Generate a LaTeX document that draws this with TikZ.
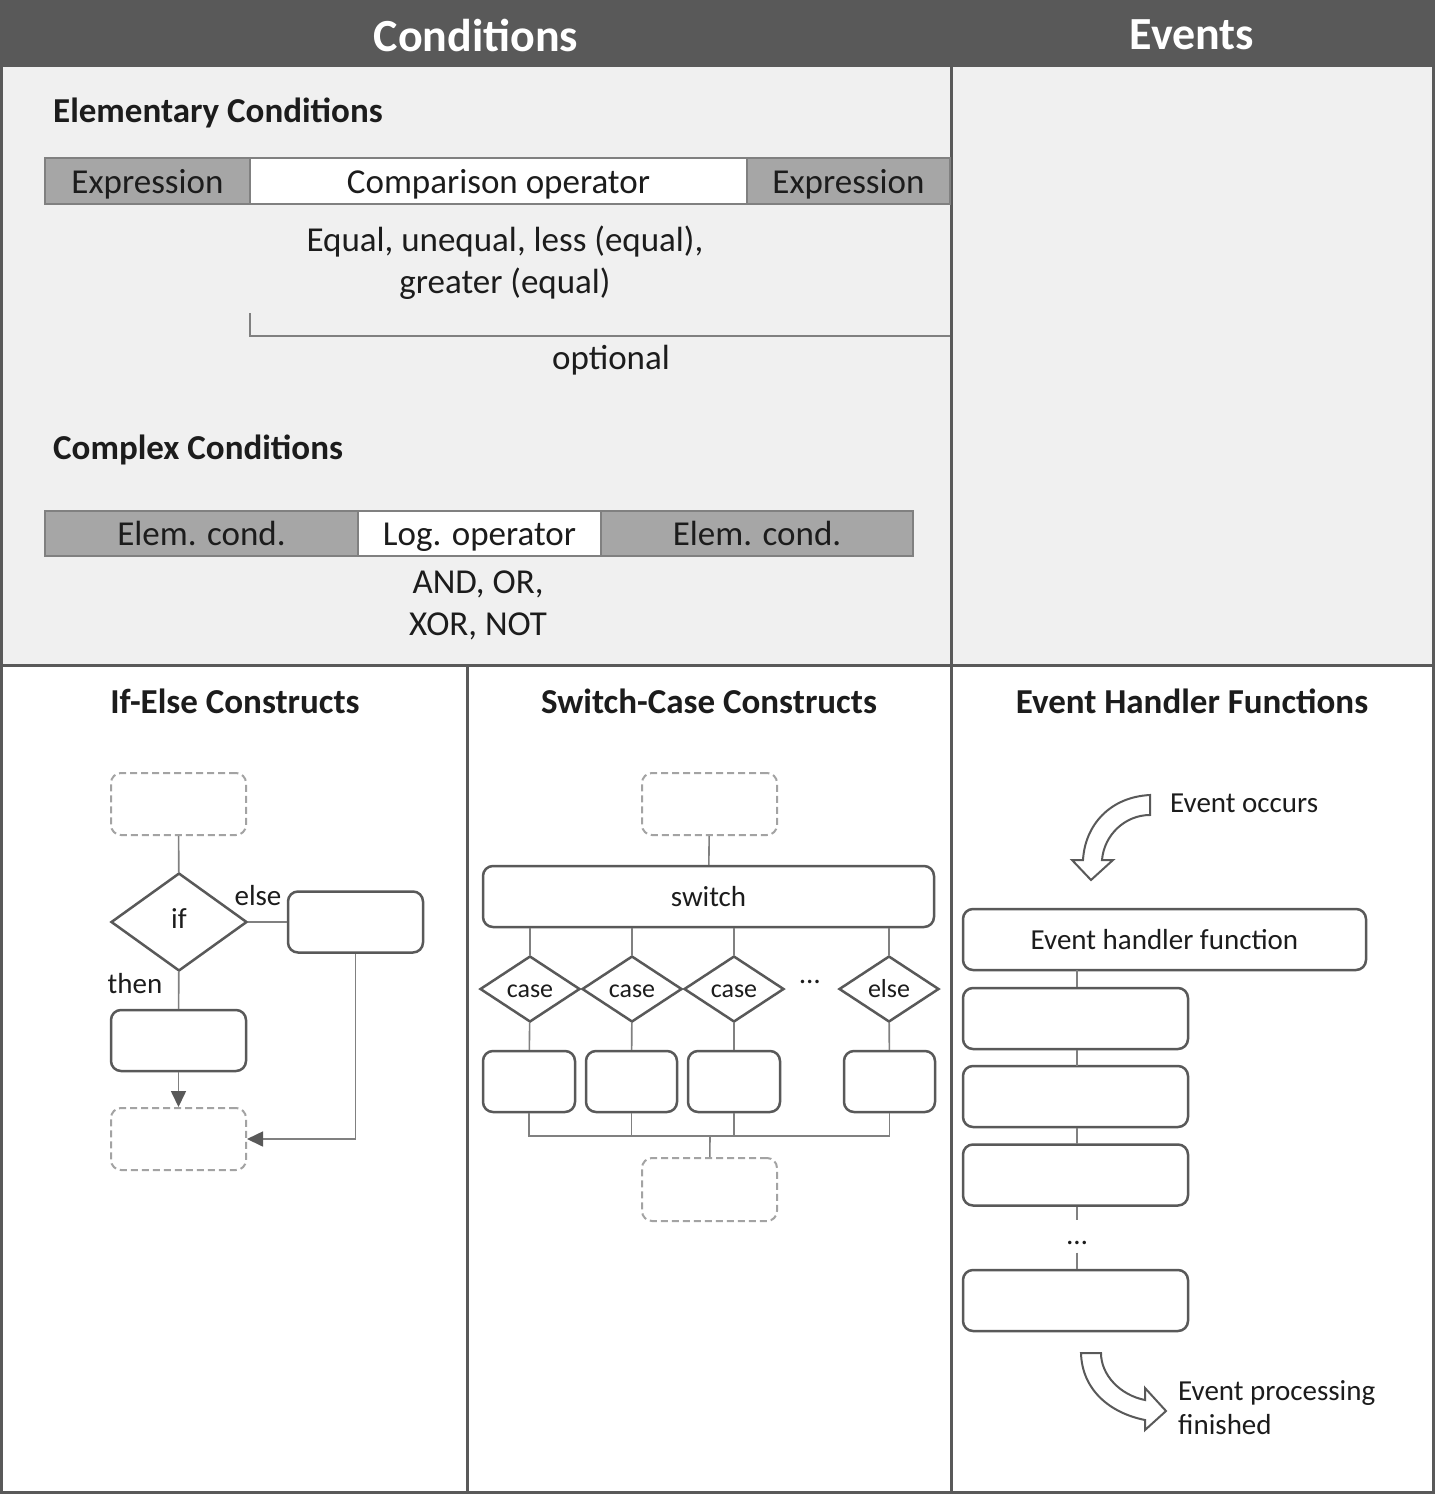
\documentclass[tikz,border=0pt]{standalone}
\usepackage{fontspec}
\setmainfont{Carlito}
\usetikzlibrary{shapes.geometric,arrows.meta}
\definecolor{dark}{HTML}{595959}
\definecolor{panel}{HTML}{F0F0F0}
\definecolor{midgray}{HTML}{A6A6A6}
\definecolor{linegray}{HTML}{808080}
\definecolor{txt}{HTML}{1C1C1C}
\definecolor{dashgray}{HTML}{A3A3A3}
\tikzset{
  headtxt/.style={font=\bfseries\fontsize{46}{50}\selectfont, text=white, inner sep=0},
  heading/.style={font=\bfseries\fontsize{35}{42}\selectfont, text=txt, inner sep=0},
  bodytxt/.style={font=\fontsize{35}{42}\selectfont, text=txt, inner sep=0, align=center},
  smalltxt/.style={font=\fontsize{29}{34}\selectfont, text=txt, inner sep=0},
  seg/.style={draw=linegray, line width=1.5pt, inner sep=0, font=\fontsize{35}{42}\selectfont, text=txt,
     text height=30pt, text depth=6pt},
  fbox/.style={draw=dark, line width=2.5pt, rounded corners=10pt, fill=white, inner sep=0,
     minimum width=135pt, minimum height=61pt, font=\fontsize{29}{34}\selectfont, text=txt},
  dbox/.style={draw=dashgray, line width=2pt, dash pattern=on 7pt off 4pt, rounded corners=10pt,
     inner sep=0, minimum width=135pt, minimum height=62pt},
  dia/.style={diamond, draw=dark, line width=2.5pt, fill=white, inner sep=0, text=txt},
  casedia/.style={dia, minimum width=100pt, minimum height=66pt, font=\fontsize{26}{30}\selectfont,
     text height=16pt, text depth=0pt},
  conn/.style={draw=linegray, line width=1.6pt},
  arr/.style={conn, -{Triangle[length=16pt,width=15pt,fill=dark,color=dark]}},
  blockarrow/.style={draw=dark, line width=2pt, fill=white, line join=miter},
}
\begin{document}
\begin{tikzpicture}[x=1pt,y=-1pt]
\useasboundingbox (0,0) rectangle (1435,1494);
% background and panels
\fill[dark] (0,0) rectangle (1435,1494);
\fill[panel] (3,67) rectangle (950,664);
\fill[panel] (953,67) rectangle (1432,664);
\fill[white] (3,667) rectangle (466,1491);
\fill[white] (469,667) rectangle (950,1491);
\fill[white] (953,667) rectangle (1432,1491);

\node[headtxt] (hcond) at (476,35) {Conditions};
\node[headtxt] (hev) at (1192,35) {Events};

% Elementary conditions
\node[heading, anchor=west] (ec) at (53,113) {Elementary Conditions};
\node[seg, fill=midgray, minimum width=205pt, minimum height=46pt] (ex1) at (147.5,181) {Expression};
\node[seg, fill=white, minimum width=497pt, minimum height=46pt] (cop) at (498.5,181) {Comparison operator};
\node[seg, fill=midgray, minimum width=203pt, minimum height=46pt] (ex2) at (848.5,181) {Expression};
\node[bodytxt] (coptxt) at (505,263) {Equal, unequal, less (equal),\\greater (equal)};
\coordinate (bra) at (250,313);
\coordinate (brb) at (250,336);
\coordinate (brc) at (950,336);
\draw[conn] (bra) -- (brb) -- (brc);
\node[bodytxt] (opt) at (611,360) {optional};

% Complex conditions
\node[heading, anchor=west] (cc) at (53,450) {Complex Conditions};
\node[seg, fill=midgray, minimum width=313pt, minimum height=45pt] (el1) at (201.5,533.5) {Elem. cond.};
\node[seg, fill=white, minimum width=243pt, minimum height=45pt] (lop) at (479.5,533.5) {Log. operator};
\node[seg, fill=midgray, minimum width=312pt, minimum height=45pt] (el2) at (757,533.5) {Elem. cond.};
\node[bodytxt] (loptxt) at (478,605) {AND, OR,\\XOR, NOT};

% bottom headings
\node[heading] (hif) at (235,701) {If-Else Constructs};
\node[heading] (hsw) at (709,701) {Switch-Case Constructs};
\node[heading] (heh) at (1192,701) {Event Handler Functions};

% If-Else
\node[dbox] (it) at (178.5,804) {};
\node[dia, minimum width=136pt, minimum height=98pt, font=\fontsize{29}{34}\selectfont, text height=12pt, text depth=0pt] (if) at (179,922) {if};
\node[fbox] (ie) at (355.5,922) {};
\node[fbox] (ith) at (178.5,1040.5) {};
\node[dbox] (ib) at (178.5,1139) {};
\node[smalltxt] (lelse) at (258,896) {else};
\node[smalltxt] (lthen) at (135,984) {then};
\draw[conn] (it) -- (if);
\draw[conn] (if) -- (ie);
\draw[conn] (if) -- (ith);
\draw[arr] (ith) -- (ib);
\draw[arr] (ie.south) |- (ib.east);

% Switch-Case
\node[dbox] (st) at (709.5,804) {};
\node[fbox, minimum width=451pt] (sw) at (708.5,896.5) {switch};
\node[casedia] (c1) at (530,989) {case};
\node[casedia] (c2) at (632,989) {case};
\node[casedia] (c3) at (734,989) {case};
\node[casedia] (ce) at (889,989) {else};
\node[smalltxt] (sdots) at (810,982) {…};
\node[fbox, minimum width=92pt] (b1) at (529,1081.5) {};
\node[fbox, minimum width=91pt] (b2) at (631.5,1081.5) {};
\node[fbox, minimum width=92pt] (b3) at (734,1081.5) {};
\node[fbox, minimum width=91pt] (b4) at (889.5,1081.5) {};
\node[dbox, minimum height=63pt] (sb) at (709.5,1189.5) {};
\coordinate (sj) at (710,1136);
\draw[conn] (st) -- (sw);
\foreach \c in {c1,c2,c3,ce} \draw[conn] (\c.north) -- (\c.north |- sw.south);
\draw[conn] (c1) -- (b1);
\draw[conn] (c2) -- (b2);
\draw[conn] (c3) -- (b3);
\draw[conn] (ce) -- (b4);
\draw[conn] (b1.south) |- (sj) -| (b4.south);
\draw[conn] (b2.south) -- (b2.south |- sj);
\draw[conn] (b3.south) -- (b3.south |- sj);
\draw[conn] (sj) -- (sb);

% Events
\draw[blockarrow] (1150,795) .. controls (1110,797) and (1085,825) .. (1083,860) -- (1072,860) -- (1091,880) -- (1113,860) -- (1102,860) .. controls (1104,835) and (1125,815) .. (1150,815) -- cycle;
\node[smalltxt, anchor=west] (eocc) at (1170,803) {Event occurs};
\node[fbox, minimum width=403pt] (eh) at (1164.5,939.5) {Event handler function};
\node[fbox, minimum width=225pt] (e1) at (1075.5,1018.5) {};
\node[fbox, minimum width=225pt] (e2) at (1075.5,1096.5) {};
\node[fbox, minimum width=225pt] (e3) at (1075.5,1175) {};
\node[smalltxt, text height=24pt, text depth=8pt] (edots) at (1077,1236.5) {…};
\node[fbox, minimum width=225pt] (e4) at (1075.5,1300.5) {};
\draw[conn] (e1.north) ++(1.5,0) -- (1077,970);
\draw[conn] (e1.south) ++(1.5,0) -- (1077,1066);
\draw[conn] (e2.south) ++(1.5,0) -- (1077,1144);
\draw[conn] (e3.south) ++(1.5,0) -- (edots.north);
\draw[conn] (edots) -- (e4.north -| edots);
\draw[blockarrow] (1081,1353) .. controls (1082,1390) and (1110,1413) .. (1145,1420) -- (1145,1430) -- (1166,1411) -- (1145,1388) -- (1145,1400) .. controls (1120,1395) and (1101,1375) .. (1101,1353) -- cycle;
\node[smalltxt, anchor=west, align=left] (efin) at (1178,1408) {Event processing\\finished};
\end{tikzpicture}
\end{document}
